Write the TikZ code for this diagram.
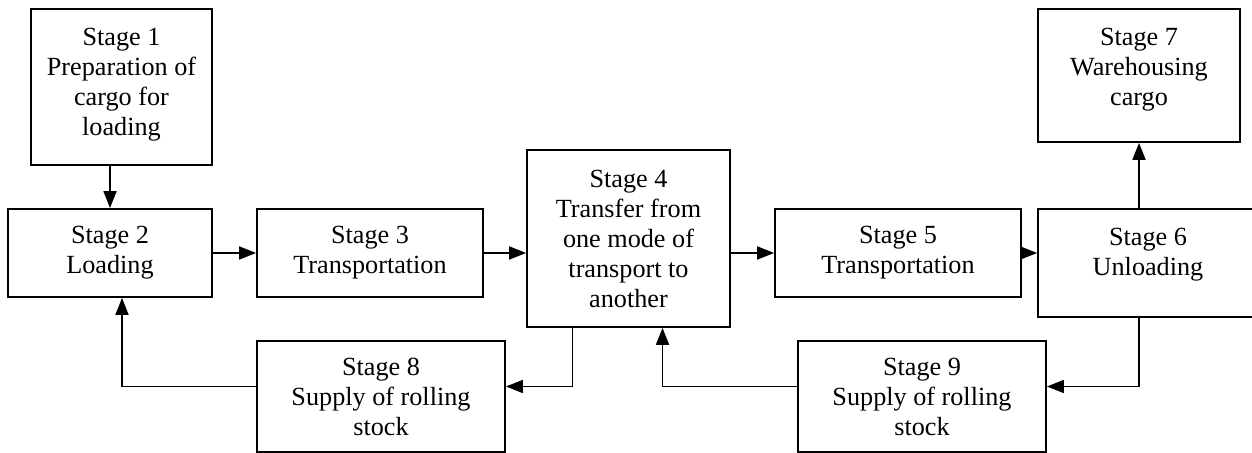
\documentclass[tikz,border=0pt]{standalone}
\usepackage{fontspec}
\setmainfont{Liberation Serif}
\usetikzlibrary{arrows.meta,positioning}

\begin{document}
\begin{tikzpicture}[
    x=0.5pt, y=-0.5pt,
    stage/.style={draw, line width=0.9pt, align=center, inner sep=2pt, font=\fontsize{13.1pt}{15pt}\selectfont},
    arr/.style={-{Triangle[length=8.5pt,width=6.5pt]}, line width=0.9pt}
]
\clip (0,0) rectangle (1252,453);
\node[stage, minimum width=90.5pt, minimum height=78pt, text depth=5pt] (s1) at (121.5,87) {Stage 1\\Preparation of\\cargo for\\loading};
\node[stage, minimum width=102pt, minimum height=44pt] (s2) at (110,253) {Stage 2\\Loading};
\node[stage, minimum width=113pt, minimum height=44pt] (s3) at (370,253) {Stage 3\\Transportation};
\node[stage, minimum width=101.5pt, minimum height=88.5pt] (s4) at (628.5,238.5) {Stage 4\\Transfer from\\one mode of\\transport to\\another};
\node[stage, minimum width=123pt, minimum height=44pt] (s5) at (898,253) {Stage 5\\Transportation};
\node[stage, minimum width=110pt, minimum height=54pt, text depth=10.9pt] (s6) at (1148,263) {Stage 6\\Unloading};
\node[stage, minimum width=101pt, minimum height=66.5pt, text depth=8.4pt] (s7) at (1139,75.5) {Stage 7\\Warehousing\\cargo};
\node[stage, minimum width=124pt, minimum height=55.5pt] (s8) at (381,396.5) {Stage 8\\Supply of rolling\\stock};
\node[stage, minimum width=124pt, minimum height=55.5pt] (s9) at (922,396.5) {Stage 9\\Supply of rolling\\stock};

\draw[arr] (s1.south -| s2.north) -- (s2.north);
\draw[arr] (s2) -- (s3);
\draw[arr] (s3.east) -- (s3.east -| s4.west);
\draw[arr] (s4.east |- s5.west) -- (s5.west);
\draw[arr] (s5.east) -- (s5.east -| s6.west);
\draw[arr] (s6.north -| s7.south) -- (s7.south);
\draw[arr] (s6.south -| s7.south) |- ([yshift=5pt]s9.east);
\draw[arr] ([yshift=5pt]s9.west) -| ([xshift=17pt]s4.south);
\draw[arr] ([xshift=-28pt]s4.south) |- ([yshift=5pt]s8.east);
\draw[arr] ([yshift=5pt]s8.west) -| ([xshift=6pt]s2.south);
\end{tikzpicture}
\end{document}
